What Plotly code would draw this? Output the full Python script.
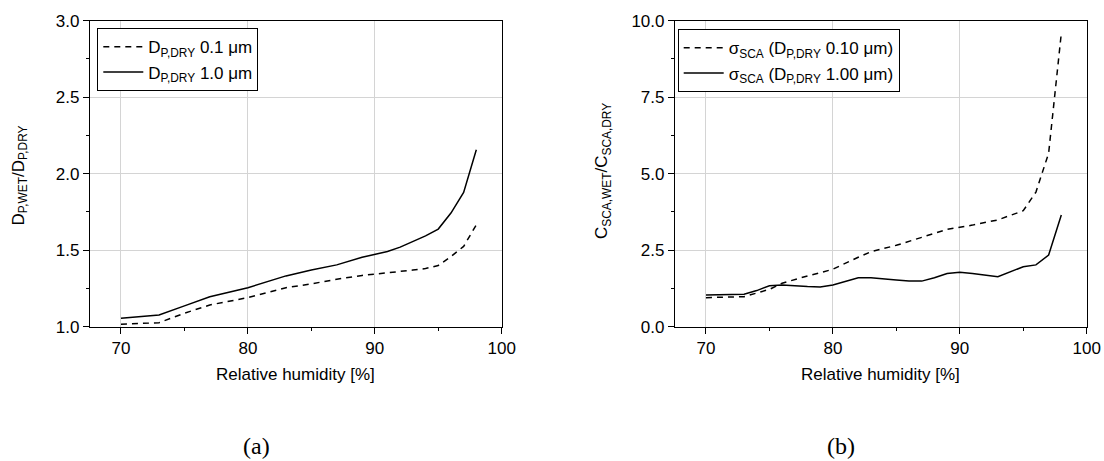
import plotly.graph_objects as go

# ---- data (a) ----
rh_a = [70, 73, 75, 77, 80, 83, 85, 87, 89, 90, 91, 92, 93, 94, 95, 96, 97, 98]
growth_01 = [1.016, 1.026, 1.088, 1.142, 1.19, 1.255, 1.28, 1.31, 1.335, 1.343, 1.35, 1.36, 1.37, 1.38, 1.40, 1.458, 1.525, 1.666]
growth_10 = [1.055, 1.077, 1.136, 1.196, 1.255, 1.332, 1.371, 1.404, 1.454, 1.474, 1.491, 1.52, 1.557, 1.594, 1.638, 1.743, 1.878, 2.157]

# ---- data (b) ----
rh_b = [70, 73, 74, 75, 76, 77, 78, 79, 80, 82, 83, 85, 86, 87, 88, 89, 90, 91, 93, 95, 96, 97, 98]
sca_010 = [0.95, 0.98, 1.10, 1.22, 1.42, 1.55, 1.66, 1.76, 1.88, 2.27, 2.45, 2.66, 2.78, 2.92, 3.05, 3.18, 3.25, 3.32, 3.49, 3.79, 4.40, 5.67, 9.59]
sca_100 = [1.036, 1.06, 1.18, 1.34, 1.36, 1.33, 1.31, 1.30, 1.36, 1.60, 1.60, 1.53, 1.49, 1.49, 1.60, 1.74, 1.78, 1.74, 1.63, 1.96, 2.02, 2.34, 3.65]

FONT = "Liberation Sans, Arial, sans-serif"
W, H = 1104, 461

fig = go.Figure()
fig.add_trace(go.Scatter(x=rh_a, y=growth_01, mode="lines", name="D<sub>P,DRY</sub> 0.1 \u03bcm",
                         line=dict(color="black", width=1.5, dash="6px,5px"), xaxis="x", yaxis="y", legend="legend"))
fig.add_trace(go.Scatter(x=rh_a, y=growth_10, mode="lines", name="D<sub>P,DRY</sub> 1.0 \u03bcm",
                         line=dict(color="black", width=1.5), xaxis="x", yaxis="y", legend="legend"))
fig.add_trace(go.Scatter(x=rh_b, y=sca_010, mode="lines", name="\u03c3<sub>SCA</sub> (D<sub>P,DRY</sub> 0.10 \u03bcm)",
                         line=dict(color="black", width=1.5, dash="6px,5px"), xaxis="x2", yaxis="y2", legend="legend2"))
fig.add_trace(go.Scatter(x=rh_b, y=sca_100, mode="lines", name="\u03c3<sub>SCA</sub> (D<sub>P,DRY</sub> 1.00 \u03bcm)",
                         line=dict(color="black", width=1.5), xaxis="x2", yaxis="y2", legend="legend2"))

common_axis = dict(showline=True, linecolor="black", linewidth=1.2, mirror=True, automargin=False,
                   ticks="outside", ticklen=6, tickwidth=1.2, tickcolor="black",
                   showgrid=True, gridcolor="#d4d4d4", gridwidth=1, zeroline=False,
                   tickfont=dict(family=FONT, size=17, color="black"))
minor_x = dict(tickvals=[75, 85, 95], ticks="outside", ticklen=3, tickcolor="black", showgrid=False)

xdom_a = [90 / W, 501.7 / W]
xdom_b = [675 / W, 1086.7 / W]
ydom = [1 - 326.7 / H, 1 - 20.7 / H]

title_font = dict(family=FONT, size=17, color="black")
cap_font = dict(family="Liberation Serif, serif", size=24, color="black")


def ann(text, px, py, font, angle=0):
    return dict(text=text, x=px / W, y=1 - py / H, xref="paper", yref="paper", showarrow=False,
                xanchor="center", yanchor="middle", textangle=angle, font=font)


fig.update_layout(
    width=W, height=H, margin=dict(l=0, r=0, t=0, b=0), autosize=False,
    paper_bgcolor="white", plot_bgcolor="white", showlegend=True,
    xaxis=dict(domain=xdom_a, range=[67.56, 100], tickvals=[70, 80, 90, 100], anchor="y",
               minor=minor_x, **common_axis),
    yaxis=dict(domain=ydom, range=[1, 3], tickvals=[1, 1.5, 2, 2.5, 3], ticktext=["1.0", "1.5", "2.0", "2.5", "3.0"],
               anchor="x",
               minor=dict(tickvals=[1.25, 1.75, 2.25, 2.75], ticks="outside", ticklen=3, tickcolor="black", showgrid=False),
               **common_axis),
    xaxis2=dict(domain=xdom_b, range=[67.56, 100], tickvals=[70, 80, 90, 100], anchor="y2",
                minor=minor_x, **common_axis),
    yaxis2=dict(domain=ydom, range=[0, 10], tickvals=[0, 2.5, 5, 7.5, 10], ticktext=["0.0", "2.5", "5.0", "7.5", "10.0"],
                anchor="x2",
                minor=dict(tickvals=[1.25, 3.75, 6.25, 8.75], ticks="outside", ticklen=3, tickcolor="black", showgrid=False),
                **common_axis),
    legend=dict(x=97.3 / W, y=1 - 28.3 / H, xanchor="left", yanchor="top",
                bgcolor="white", bordercolor="black", borderwidth=1,
                font=dict(family=FONT, size=17, color="black"), tracegroupgap=0, itemwidth=40),
    legend2=dict(x=677.7 / W, y=1 - 29.3 / H, xanchor="left", yanchor="top",
                 bgcolor="white", bordercolor="black", borderwidth=1,
                 font=dict(family=FONT, size=17, color="black"), tracegroupgap=0, itemwidth=40),
    annotations=[
        ann("Relative humidity [%]", 295.8, 374.3, title_font),
        ann("Relative humidity [%]", 880.8, 374.3, title_font),
        ann("D<sub>P,WET</sub>/D<sub>P,DRY</sub>", 19, 175.5, title_font, -90),
        ann("C<sub>SCA,WET</sub>/C<sub>SCA,DRY</sub>", 603, 171, title_font, -90),
        ann("(a)", 256, 446, cap_font),
        ann("(b)", 841, 446, cap_font),
    ],
)

fig.write_html("out.html")
